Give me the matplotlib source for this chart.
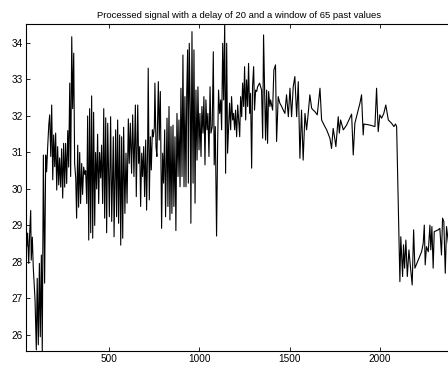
import matplotlib
matplotlib.use("Agg")
import matplotlib.pyplot as plt

title_text = "Processed signal with a delay of 20 and a window of 65 past values"
x_ticks = [500, 1000, 1500, 2000]
y_ticks = [26, 27, 28, 29, 30, 31, 32, 33, 34]

# sample index (x) and processed signal value (y)
sample_x = [
    41, 45, 50, 56, 61, 67, 70, 76, 81, 91, 98, 103, 109, 115, 120, 126, 131, 137, 144, 150,
    155, 161, 167, 172, 178, 183, 189, 194, 200, 205, 211, 216, 222, 227, 233, 238, 244, 249, 255, 260,
    266, 272, 277, 283, 288, 294, 299, 305, 310, 316, 321, 327, 332, 338, 343, 349, 354, 360, 366, 371,
    377, 382, 388, 393, 399, 404, 410, 415, 421, 426, 432, 437, 443, 448, 454, 459, 465, 471, 476, 482,
    487, 493,
    502, 509, 515, 524, 528, 537, 542, 548, 553, 559, 565, 570, 576, 581, 588, 594, 600, 607, 612, 618,
    625, 631, 638, 646, 651, 659, 664, 670, 675, 681, 686, 692, 697, 703, 708, 714, 717, 723, 729, 734,
    740, 745, 751, 754, 760, 765, 773, 778, 784, 791, 797, 802, 808, 813, 821, 826, 832, 837, 843, 848,
    854, 859, 865, 870, 876, 882, 887, 893, 898, 904, 909, 915, 920,
    926, 930, 935, 939, 944, 950, 953, 959, 965, 970, 976, 981, 987, 992, 998, 1003, 1009, 1014, 1020, 1025,
    1031, 1036, 1042, 1047, 1053, 1059, 1064, 1071, 1077, 1082, 1088, 1095, 1101, 1106, 1112, 1118, 1123, 1129, 1134, 1140,
    1145, 1151, 1156, 1162, 1167, 1173, 1178, 1184, 1189, 1195, 1200, 1206, 1212, 1217, 1223, 1228, 1234, 1239, 1245, 1250,
    1256, 1261, 1267, 1272, 1278, 1283, 1289, 1294, 1300, 1305, 1311, 1317, 1322, 1333, 1344, 1350, 1355, 1361, 1366, 1372,
    1377, 1383, 1390,
    1394, 1405, 1412, 1421, 1427, 1436, 1445, 1455, 1464, 1473, 1482, 1492, 1501, 1510, 1519, 1528, 1538, 1547, 1556, 1565,
    1574, 1584, 1593, 1602, 1611, 1621, 1630, 1639, 1652, 1667, 1676, 1685, 1694, 1704, 1722, 1731, 1740, 1750, 1755, 1768,
    1774, 1781, 1796, 1814, 1832, 1842, 1851, 1860, 1869, 1888, 1897, 1906, 1910, 1943, 1971, 1980, 1989, 1998, 2008, 2020,
    2031, 2045, 2063, 2076, 2085, 2091,
    2109, 2114, 2124, 2129, 2135, 2142, 2150, 2159, 2168, 2177, 2185, 2192, 2229, 2238, 2244, 2249, 2256, 2266, 2275, 2280,
    2286, 2293, 2299, 2321, 2330, 2339, 2345, 2352, 2360, 2367, 2380, 2392, 2400,
]
signal_y = [
    29.6, 28.42, 28.79, 27.96, 28.74, 29.41, 28.05, 28.68, 27.87, 26.96, 25.59, 27.55, 25.73, 27.96, 25.95, 28.19, 25.56, 30.93, 27.42, 30.93,
    30.47, 31.16, 31.75, 32.03, 30.89, 32.30, 30.25, 31.48, 30.61, 31.53, 29.97, 31.16, 30.11, 30.85, 30.05, 31.1, 29.75, 31.25, 30.05, 31.25,
    30.15, 31.6, 30.6, 32.9, 30.34, 34.17, 32.2, 33.72, 30.7, 30.3, 29.2, 31.2, 29.5, 31.0, 29.6, 30.7, 29.85, 30.6, 30.4, 30.5,
    29.6, 32.0, 28.6, 32.2, 28.8, 32.55, 28.65, 32.1, 29.0, 31.0, 30.0, 31.5, 29.6, 31.0, 30.3, 31.2, 29.6, 32.2, 29.2, 31.95,
    28.8, 31.8,
    29.24, 31.98, 29.11, 31.43, 28.69, 31.62, 29.24, 31.89, 29.06, 31.48, 28.46, 31.43, 28.65, 31.69, 29.33, 30.98, 29.61, 31.92, 30.70, 31.80,
    30.43, 32.03, 30.34, 32.30, 29.79, 32.30, 30.70, 31.16, 29.52, 30.98, 30.34, 31.16, 29.79, 31.34, 29.42, 31.25, 33.31, 29.70, 31.43, 30.52,
    31.62, 31.43, 31.71, 32.90, 31.16, 30.89, 32.94, 31.34, 32.67, 28.92, 30.98, 30.16, 31.62, 29.24, 31.94, 29.52, 32.26, 29.15, 31.71, 29.33,
    31.75, 29.52, 31.43, 28.86, 32.07, 30.34, 31.89, 30.06, 32.76, 30.34, 33.67, 30.06, 32.53,
    30.06, 32.62, 33.81, 30.16, 33.99, 32.07, 29.06, 34.31, 30.16, 33.81, 29.61, 32.71, 30.79, 32.80, 31.07, 32.07, 30.89, 32.26, 31.53, 32.53,
    30.66, 32.44, 31.62, 32.07, 30.89, 32.80, 31.53, 31.71, 33.76, 30.66, 31.71, 28.71, 31.25, 32.71, 32.07, 32.44, 31.62, 33.99, 32.44, 34.52,
    30.43, 33.99, 30.98, 31.71, 32.35, 31.62, 32.53, 31.89, 32.07, 31.62, 32.16, 31.43, 32.30, 31.89, 31.43, 32.53, 31.98, 32.90, 32.26, 33.35,
    31.89, 32.99, 32.26, 33.44, 32.07, 32.62, 30.57, 32.80, 33.35, 32.16, 32.71, 32.67, 32.80, 32.90, 32.71, 31.39, 34.22, 32.71, 31.34, 32.71,
    31.25, 32.67, 32.26,
    32.44, 32.16, 33.26, 33.40, 31.30, 32.53, 32.35, 32.26, 32.16, 32.07, 32.58, 31.98, 32.76, 31.98, 32.80, 33.08, 31.98, 32.94, 30.84, 32.16,
    30.79, 32.07, 31.62, 32.07, 32.58, 32.21, 32.16, 32.12, 32.03, 32.76, 31.89, 31.80, 31.71, 31.62, 31.39, 31.11, 31.66, 31.34, 31.16, 31.98,
    31.53, 31.89, 31.62, 31.75, 31.94, 32.05, 30.93, 31.80, 31.98, 32.35, 32.58, 31.48, 31.78, 31.75, 31.71, 32.76, 31.57, 32.03, 31.94, 32.07,
    32.30, 31.89, 31.80, 31.71, 31.78, 31.71,
    27.46, 28.69, 27.60, 28.47, 27.83, 28.60, 27.60, 28.33, 27.83, 27.37, 28.88, 27.83, 28.28, 28.51, 29.01, 27.92, 28.42, 28.28, 29.01, 28.33,
    28.97, 27.83, 28.83, 28.88, 28.92, 28.19, 29.20, 29.11, 27.69, 28.97, 28.4, 29.0, 28.8,
]

plt.rcParams['font.family'] = ['Liberation Sans', 'DejaVu Sans']

fig = plt.figure(figsize=(4.48, 3.73), dpi=100)
ax = fig.add_axes([26 / 448, 22 / 373, 426.5 / 448, 327 / 373])
ax.plot(sample_x, signal_y, color='black', lw=0.8)
ax.set_xlim(min(sample_x), max(sample_x))
ax.set_ylim(min(signal_y), max(signal_y))
ax.set_xticks(x_ticks)
ax.set_yticks(y_ticks)
ax.set_xticklabels([str(v) for v in x_ticks])
ax.set_yticklabels([str(v) for v in y_ticks])
ax.tick_params(direction='in', length=3, width=0.6, top=True, right=True,
               labelsize=7.2, pad=2.5)
for s in ax.spines.values():
    s.set_linewidth(0.8)
ax.set_title(title_text, fontsize=6.8, pad=4)

fig.savefig('out.png', dpi=100)
